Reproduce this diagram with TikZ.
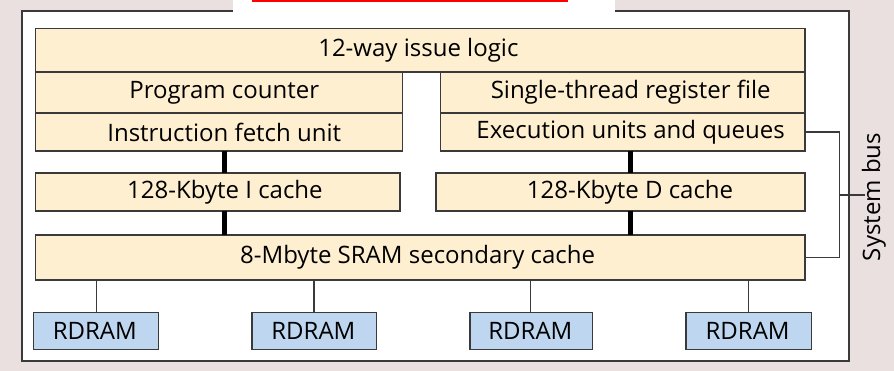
\documentclass[tikz,border=0pt]{standalone}
\usepackage{fontspec}
\setmainfont{Open Sans}
\definecolor{bgtex}{HTML}{E9E0DF}
\definecolor{cream}{HTML}{FEEFD1}
\definecolor{rdblue}{HTML}{BED6EF}
\definecolor{edge}{HTML}{3A3A3A}
\begin{document}
\begin{tikzpicture}[x=1pt,y=-1pt,
  box/.style={draw=edge,line width=1.3pt,fill=cream,inner sep=0pt,outer sep=0pt,rectangle},
  rdbox/.style={box,fill=rdblue},
  txt/.style={font=\fontsize{24}{28}\selectfont,text=black},
  thick link/.style={draw=black,line width=5pt},
  thin link/.style={draw=edge,line width=1.3pt}]
\useasboundingbox (0,0) rectangle (894,371);
\fill[bgtex] (0,0) rectangle (894,371);
\draw[edge,line width=2pt,fill=white] (21.7,11) rectangle (849.3,361.3);
\fill[white] (233,0) rectangle (615,12.2);
\fill[red] (252,0) rectangle (567.5,1.6);
% boxes
\node[box,minimum width=769.3pt,minimum height=43.7pt,label={[txt,xshift=-2pt]center:12-way issue logic}] (issue) at (420.35,50.15) {};
\node[box,minimum width=367pt,minimum height=41pt,label={[txt,xshift=5pt]center:Program counter}] (pc) at (219.2,92.5) {};
\node[box,minimum width=367pt,minimum height=38pt,label={[txt,xshift=5pt]center:Instruction fetch unit}] (ifu) at (219.2,132) {};
\node[box,minimum width=364.3pt,minimum height=41pt,label={[txt,xshift=7.8pt]center:Single-thread register file}] (strf) at (622.85,92.5) {};
\node[box,minimum width=364.3pt,minimum height=38pt,label={[txt,xshift=7.8pt]center:Execution units and queues}] (eu) at (622.85,132) {};
\node[box,minimum width=364.3pt,minimum height=38pt,label={[txt,xshift=7.1pt]center:128-Kbyte I cache}] (ic) at (217.85,192) {};
\node[box,minimum width=369pt,minimum height=38pt,label={[txt,xshift=9.5pt]center:128-Kbyte D cache}] (dc) at (620.5,192) {};
\node[box,minimum width=769.3pt,minimum height=45pt,label={[txt,xshift=-2.8pt]center:8-Mbyte SRAM secondary cache}] (sram) at (420.35,257.5) {};
\node[rdbox,minimum width=125pt,minimum height=36.6pt,label={[txt,xshift=-1pt]center:RDRAM}] (rd1) at (95.8,331) {};
\node[rdbox,minimum width=124.7pt,minimum height=36.6pt,label={[txt,xshift=-1pt]center:RDRAM}] (rd2) at (314.35,331) {};
\node[rdbox,minimum width=122.7pt,minimum height=36.6pt,label={[txt,xshift=-1pt]center:RDRAM}] (rd3) at (531.35,331) {};
\node[rdbox,minimum width=125.3pt,minimum height=36.6pt,label={[txt,xshift=-1pt]center:RDRAM}] (rd4) at (748.65,331) {};
% thick links
\draw[thick link] (ifu.south -| 224.3,0) -- (ic.north -| 224.3,0);
\draw[thick link] (ic.south -| 224.3,0) -- (sram.north -| 224.3,0);
\draw[thick link] (eu.south -| 630.7,0) -- (dc.north -| 630.7,0);
\draw[thick link] (dc.south -| 630.7,0) -- (sram.north -| 630.7,0);
% RDRAM links
\draw[thin link] (sram.south -| 96.3,0) -- (rd1.north -| 96.3,0);
\draw[thin link] (sram.south -| 314,0) -- (rd2.north -| 314,0);
\draw[thin link] (sram.south -| 530.7,0) -- (rd3.north -| 530.7,0);
\draw[thin link] (sram.south -| 748.3,0) -- (rd4.north -| 748.3,0);
% system bus
\coordinate (busx) at (839.3,195);
\coordinate (bustick) at (865,195);
\draw[thin link] (eu.east) -| (busx) |- (sram.east);
\draw[thin link] (busx) -- (bustick);
\node[txt,rotate=90] (sysbus) at (874,197) {System bus};
\end{tikzpicture}
\end{document}
